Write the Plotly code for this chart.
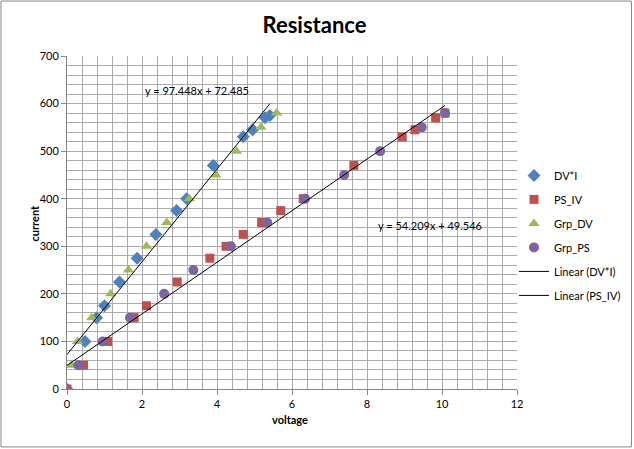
import numpy as np
import plotly.graph_objects as go

# ---- data ----
dv_x = [0, 0.48, 0.79, 1.00, 1.40, 1.87, 2.37, 2.92, 3.19, 3.90, 4.70, 4.95, 5.28, 5.41]
dv_y = [0, 100, 150, 175, 225, 275, 325, 375, 400, 470, 530, 545, 570, 575]

ps_x = [0, 0.44, 1.08, 1.79, 2.12, 2.94, 3.81, 4.24, 4.70, 5.19, 5.70, 6.30, 7.65, 8.94, 9.28, 9.83, 10.08]
ps_y = [0, 50, 100, 150, 175, 225, 275, 300, 325, 350, 375, 400, 470, 530, 545, 570, 580]

gdv_x = [0.12, 0.28, 0.66, 1.16, 1.64, 2.12, 2.66, 3.26, 3.97, 4.52, 5.17, 5.59]
gdv_y = [50, 100, 150, 200, 250, 300, 350, 400, 450, 500, 550, 580]

gps_x = [0.30, 0.95, 1.68, 2.59, 3.37, 4.37, 5.34, 6.35, 7.39, 8.35, 9.46, 10.08]
gps_y = [50, 100, 150, 200, 250, 300, 350, 400, 450, 500, 550, 580]

dv_fit = (97.448, 72.485)   # slope, intercept
ps_fit = (54.209, 49.546)

x_ticks = [0, 2, 4, 6, 8, 10, 12]
y_ticks = [0, 100, 200, 300, 400, 500, 600, 700]

BLUE, RED, GREEN, PURPLE = "#4F81BD", "#C0504D", "#9BBB59", "#8064A2"
FONT = "Lato"

fig = go.Figure()
fig.add_trace(go.Scatter(x=dv_x, y=dv_y, mode="markers", name="DV*I", legendgroup="a",
                         marker=dict(symbol="diamond", size=10, color=BLUE)))
fig.add_trace(go.Scatter(x=ps_x, y=ps_y, mode="markers", name="PS_IV", legendgroup="b",
                         marker=dict(symbol="square", size=9, color=RED)))
fig.add_trace(go.Scatter(x=gdv_x, y=gdv_y, mode="markers", name="Grp_DV", legendgroup="c",
                         marker=dict(symbol="triangle-up", size=10, color=GREEN)))
fig.add_trace(go.Scatter(x=gps_x, y=gps_y, mode="markers", name="Grp_PS", legendgroup="d",
                         marker=dict(symbol="circle", size=10, color=PURPLE)))

tx1 = np.array([min(dv_x), max(dv_x)])
fig.add_trace(go.Scatter(x=tx1, y=dv_fit[0] * tx1 + dv_fit[1], mode="lines", name="Linear (DV*I)",
                         legendgroup="e", line=dict(color="black", width=1)))
tx2 = np.array([min(ps_x), max(ps_x)])
fig.add_trace(go.Scatter(x=tx2, y=ps_fit[0] * tx2 + ps_fit[1], mode="lines", name="Linear (PS_IV)",
                         legendgroup="f", line=dict(color="black", width=1)))

grid = "#ababab"
axis_common = dict(showgrid=True, gridcolor=grid, gridwidth=1, zeroline=False,
                   showline=True, linecolor="#868686", ticks="outside", ticklen=5,
                   tickcolor="#868686", tickfont=dict(family=FONT, size=11, color="black"),
                   automargin=False)

fig.update_xaxes(range=[0, 12], tickvals=x_ticks,
                 minor=dict(dtick=0.4, showgrid=True, gridcolor=grid, ticks=""),
                 **axis_common)
fig.update_yaxes(range=[0, 700], tickvals=y_ticks,
                 minor=dict(dtick=20, showgrid=True, gridcolor=grid, ticks=""),
                 **axis_common)

fig.add_annotation(x=3.47, y=628, xref="x", yref="y", showarrow=False,
                   text=f"y = {dv_fit[0]}x + {dv_fit[1]}", font=dict(family=FONT, size=11, color="black"))
fig.add_annotation(x=9.68, y=343, xref="x", yref="y", showarrow=False,
                   text=f"y = {ps_fit[0]}x + {ps_fit[1]}", font=dict(family=FONT, size=11, color="black"))

fig.add_annotation(x=-0.091, y=0.4985, xref="paper", yref="paper", showarrow=False, textangle=-90,
                   text="<b>current</b>", font=dict(family=FONT, size=11, color="black"))
fig.add_annotation(x=0.4956, y=-0.117, xref="paper", yref="paper", showarrow=False,
                   text="<b>voltage</b>", font=dict(family=FONT, size=11, color="black"))

fig.add_shape(type="rect", xref="paper", yref="paper", x0=-0.1467, x1=1.2544, y0=-0.174, y1=1.165,
              line=dict(color="#868686", width=1), layer="below")

fig.update_layout(
    width=634, height=449,
    margin=dict(l=67, r=117, t=56, b=60, autoexpand=False),
    paper_bgcolor="white", plot_bgcolor="white",
    title=dict(text="<b>Resistance</b>", x=314.5 / 634, xref="container", xanchor="center",
               y=1 - 25 / 449, yanchor="middle",
               font=dict(family=FONT, size=22, color="black")),
    legend=dict(x=514 / 634, xref="container", y=0.685, xanchor="left", yanchor="top", tracegroupgap=5,
                font=dict(family=FONT, size=11, color="black"), bgcolor="rgba(0,0,0,0)"),
    showlegend=True,
)

fig.write_html("out.html")
